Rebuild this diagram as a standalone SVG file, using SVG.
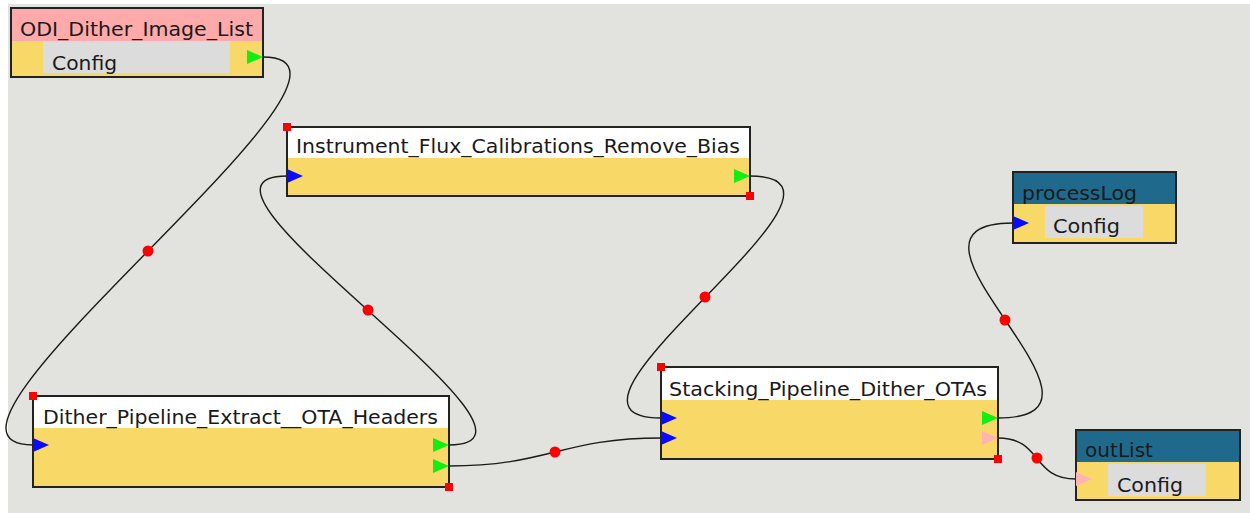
<svg xmlns="http://www.w3.org/2000/svg" width="1250" height="513" viewBox="0 0 1250 513">
  <style>
    .body{fill:#f8d967}
    .tw{fill:#ffffff}
    .tp{fill:#ffaaaa}
    .tb{fill:#1f6a8c}
    .cfg{fill:#dcdcdc}
    .frame{fill:none;stroke:#222;stroke-width:2}
    .lbl{font-family:"DejaVu Sans",sans-serif;font-size:19px;fill:#1a1a1a}
    .in{fill:#0a0aff}
    .out{fill:#11ee11}
    .pk{fill:#ffb3b3}
    .hnd{fill:#ff0000}
    .wire{fill:none;stroke:#1a1a1a;stroke-width:1.4}
    .mid{fill:#ff0000}
  </style>
  <rect x="0" y="0" width="1250" height="513" fill="#ffffff"/>
  <rect x="8" y="4" width="1242" height="509" fill="#e2e2de"/>

  <g id="connectors">
    <path class="wire" d="M263,57 C413,57 -117,445 33,445"/>
    <circle class="mid" cx="148" cy="251" r="5.5"/>
    <path class="wire" d="M449,445 C585,445 151,176 287,176"/>
    <circle class="mid" cx="368" cy="310" r="5.5"/>
    <path class="wire" d="M750,176 C895,176 516,418 661,418"/>
    <circle class="mid" cx="705" cy="297" r="5.5"/>
    <path class="wire" d="M449,466 C549,466 561,438 661,438"/>
    <circle class="mid" cx="555" cy="452" r="5.5"/>
    <path class="wire" d="M998,418 C1145,418 866,223 1013,223"/>
    <circle class="mid" cx="1005" cy="320" r="5.5"/>
    <path class="wire" d="M998,438 C1043,438 1031,479 1076,479"/>
    <circle class="mid" cx="1037" cy="458" r="5.5"/>
  </g>

  <g id="node-odi">
    <rect class="tp" x="11" y="8" width="252" height="33"/>
    <rect class="body" x="11" y="41" width="252" height="36"/>
    <rect class="cfg" x="43" y="41" width="187" height="32"/>
    <rect class="frame" x="11" y="8" width="252" height="69"/>
    <text class="lbl" x="20" y="36" textLength="233" lengthAdjust="spacingAndGlyphs">ODI_Dither_Image_List</text>
    <text class="lbl" x="52" y="70" textLength="65" lengthAdjust="spacingAndGlyphs">Config</text>
    <polygon class="out" points="247,50 247,64 263,57"/>
  </g>

  <g id="node-instrument">
    <rect class="tw" x="287" y="127" width="463" height="31"/>
    <rect class="body" x="287" y="158" width="463" height="38"/>
    <rect class="frame" x="287" y="127" width="463" height="69"/>
    <text class="lbl" x="296" y="153" textLength="444" lengthAdjust="spacingAndGlyphs">Instrument_Flux_Calibrations_Remove_Bias</text>
    <polygon class="in" points="287,169 287,183 303,176"/>
    <polygon class="out" points="734,169 734,183 750,176"/>
    <rect class="hnd" x="283" y="123" width="8" height="8"/>
    <rect class="hnd" x="746" y="192" width="8" height="8"/>
  </g>

  <g id="node-processlog">
    <rect class="tb" x="1013" y="172" width="163" height="32"/>
    <rect class="body" x="1013" y="204" width="163" height="39"/>
    <rect class="cfg" x="1045" y="206" width="98" height="32"/>
    <rect class="frame" x="1013" y="172" width="163" height="71"/>
    <text class="lbl" x="1022" y="200" textLength="115" lengthAdjust="spacingAndGlyphs">processLog</text>
    <text class="lbl" x="1053" y="233" textLength="67" lengthAdjust="spacingAndGlyphs">Config</text>
    <polygon class="in" points="1013,216 1013,230 1029,223"/>
  </g>

  <g id="node-dither">
    <rect class="tw" x="33" y="396" width="416" height="32"/>
    <rect class="body" x="33" y="428" width="416" height="59"/>
    <rect class="frame" x="33" y="396" width="416" height="91"/>
    <text class="lbl" x="43" y="424" textLength="395" lengthAdjust="spacingAndGlyphs">Dither_Pipeline_Extract__OTA_Headers</text>
    <polygon class="in" points="33,438 33,452 49,445"/>
    <polygon class="out" points="433,438 433,452 449,445"/>
    <polygon class="out" points="433,459 433,473 449,466"/>
    <rect class="hnd" x="29" y="392" width="8" height="8"/>
    <rect class="hnd" x="445" y="483" width="8" height="8"/>
  </g>

  <g id="node-stacking">
    <rect class="tw" x="661" y="367" width="337" height="33"/>
    <rect class="body" x="661" y="400" width="337" height="59"/>
    <rect class="frame" x="661" y="367" width="337" height="92"/>
    <text class="lbl" x="669" y="396" textLength="318" lengthAdjust="spacingAndGlyphs">Stacking_Pipeline_Dither_OTAs</text>
    <polygon class="in" points="661,411 661,425 677,418"/>
    <polygon class="in" points="661,431 661,445 677,438"/>
    <polygon class="out" points="982,411 982,425 998,418"/>
    <polygon class="pk" points="982,431 982,445 998,438"/>
    <rect class="hnd" x="657" y="363" width="8" height="8"/>
    <rect class="hnd" x="994" y="455" width="8" height="8"/>
  </g>

  <g id="node-outlist">
    <rect class="tb" x="1076" y="430" width="164" height="32"/>
    <rect class="body" x="1076" y="462" width="164" height="38"/>
    <rect class="cfg" x="1108" y="464" width="98" height="32"/>
    <rect class="frame" x="1076" y="430" width="164" height="70"/>
    <text class="lbl" x="1085" y="457" textLength="68" lengthAdjust="spacingAndGlyphs">outList</text>
    <text class="lbl" x="1117" y="492" textLength="66" lengthAdjust="spacingAndGlyphs">Config</text>
    <polygon class="pk" points="1076,472 1076,486 1092,479"/>
  </g>
</svg>
